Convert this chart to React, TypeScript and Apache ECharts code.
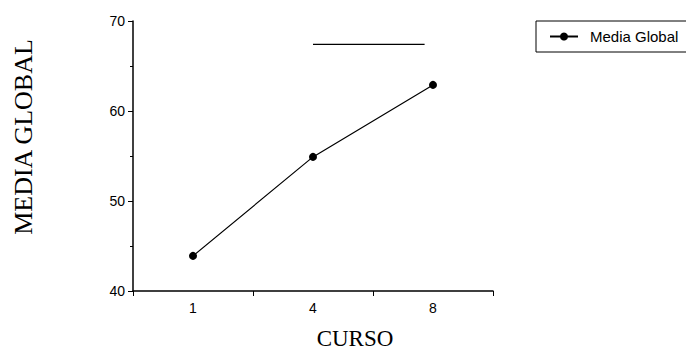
import React, { useEffect, useRef } from "react";
import * as echarts from "echarts";

const categories = ["1", "4", "8"];
const mediaGlobal = [43.9, 54.9, 62.9];
const seriesName = "Media Global";
const sigBarX = [1.5, 2.43];
const sigBarY = 67.4;
const yMin = 40;
const yMax = 70;
const yInterval = 10;
const yTitle = "MEDIA GLOBAL";
const xTitle = "CURSO";

export default function App() {
  const ref = useRef<HTMLDivElement>(null);
  useEffect(() => {
    if (!ref.current) return;
    const chart = echarts.init(ref.current, null, { renderer: "svg" });
    const axisColor = "#000";
    chart.setOption({
      animation: false,
      backgroundColor: "#fff",
      grid: { left: 133, right: 193, top: 21, bottom: 61 },
      legend: {
        data: [seriesName],
        left: 536,
        top: 21,
        orient: "vertical",
        padding: [8, 45, 8, 13],
        borderColor: "#000",
        borderWidth: 1,
        itemWidth: 28,
        itemHeight: 10,
        textStyle: {
          fontFamily: "Liberation Sans, Arial, sans-serif",
          fontSize: 15,
          color: "#000",
          padding: [0, 0, 0, 7],
        },
      },
      xAxis: [
        {
          type: "category",
          data: categories,
          boundaryGap: true,
          axisLine: { lineStyle: { color: axisColor, width: 1.5 } },
          axisTick: { show: true, length: 5, lineStyle: { color: axisColor } },
          axisLabel: {
            color: "#000",
            fontFamily: "Liberation Sans, Arial, sans-serif",
            fontSize: 14,
            margin: 10,
          },
        },
        {
          type: "value",
          min: 0,
          max: 3,
          show: false,
        },
      ],
      yAxis: {
        type: "value",
        min: yMin,
        max: yMax,
        interval: yInterval,
        axisLine: { show: true, lineStyle: { color: axisColor, width: 1.5 } },
        axisTick: { show: true, length: 5, lineStyle: { color: axisColor } },
        minorTick: { show: true, splitNumber: 2, length: 3, lineStyle: { color: axisColor } },
        splitLine: { show: false },
        axisLabel: {
          color: "#000",
          fontFamily: "Liberation Sans, Arial, sans-serif",
          fontSize: 14,
          margin: 8,
        },
      },
      graphic: [
        {
          type: "text",
          x: 23,
          y: 137,
          rotation: Math.PI / 2,
          style: {
            text: yTitle,
            font: "26px 'Liberation Serif', 'Times New Roman', serif",
            fill: "#000",
            align: "center",
            verticalAlign: "middle",
          },
        },
        {
          type: "text",
          x: 355,
          y: 338,
          style: {
            text: xTitle,
            font: "23px 'Liberation Serif', 'Times New Roman', serif",
            fill: "#000",
            align: "center",
            verticalAlign: "middle",
          },
        },
      ],
      series: [
        {
          name: seriesName,
          type: "line",
          data: mediaGlobal,
          symbol: "circle",
          symbolSize: 8,
          itemStyle: { color: "#000" },
          lineStyle: { color: "#000", width: 1.2 },
        },
        {
          name: "sig",
          type: "line",
          xAxisIndex: 1,
          data: sigBarX.map((x) => [x, sigBarY]),
          symbol: "none",
          silent: true,
          lineStyle: { color: "#000", width: 1.3 },
        },
      ],
    });
    return () => chart.dispose();
  }, []);
  return (
    <div
      ref={ref}
      style={{ position: "fixed", left: 0, top: 0, width: 686, height: 352 }}
    />
  );
}
